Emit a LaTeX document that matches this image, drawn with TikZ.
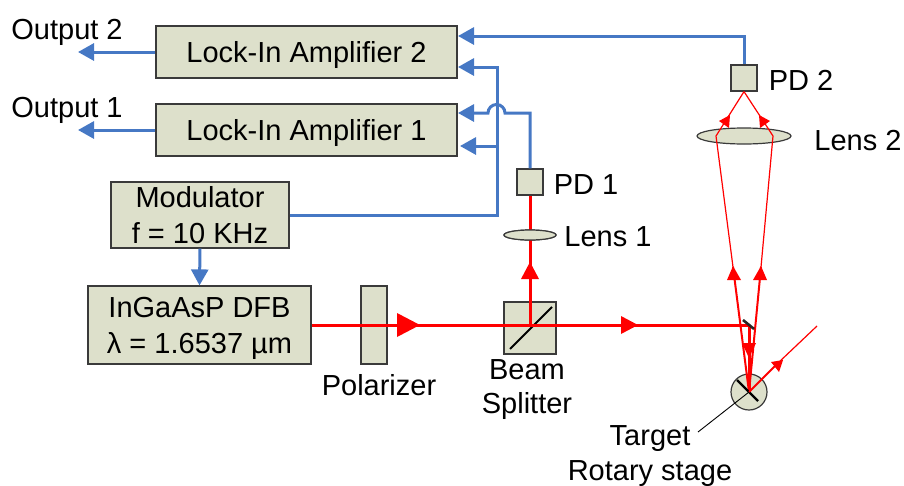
\documentclass[tikz,border=0pt]{standalone}
\usepackage{fontspec}
\setmainfont{Liberation Sans}
\usetikzlibrary{arrows.meta,shapes.geometric,calc}
\definecolor{boxfill}{HTML}{DDE0CB}
\definecolor{boxline}{HTML}{3A3A3A}
\definecolor{sigblue}{HTML}{4678C4}
\definecolor{beamred}{HTML}{FF0000}
\tikzset{
  unit/.style={draw=boxline,line width=1.2pt,fill=boxfill,inner sep=0pt,rectangle,font=\fontsize{29}{36}\selectfont,align=center,text depth=0pt},
  lensshape/.style={ellipse,draw=boxline,line width=1.2pt,fill=boxfill,inner sep=0pt},
  lbl/.style={anchor=base,inner sep=0pt,font=\fontsize{29}{29}\selectfont,text=black},
  sig/.style={draw=sigblue,line width=3pt},
  sigarrow/.style={sig,-{Triangle[length=16pt,width=17pt]}},
  thin beam/.style={draw=beamred,line width=1.2pt},
  mid beam/.style={draw=beamred,line width=2pt},
  fat beam/.style={draw=beamred,line width=3pt},
  redhead/.style={fill=beamred,draw=none},
}
\begin{document}
\begin{tikzpicture}[x=1pt,y=-1pt]
\useasboundingbox (0,0) rectangle (904,485);
% boxes
\node[unit,minimum width=301pt,minimum height=52pt] (lia2) at (306.5,52) {Lock-In Amplifier 2};
\node[unit,minimum width=301pt,minimum height=52pt] (lia1) at (306.5,130) {Lock-In Amplifier 1};
\node[unit,minimum width=178pt,minimum height=66pt] (mod) at (200,215) {Modulator\\f = 10 KHz};
\node[unit,minimum width=223pt,minimum height=78pt] (dfb) at (199.5,325) {InGaAsP DFB\\λ = 1.6537 µm};
\node[unit,minimum width=26pt,minimum height=78pt] (pol) at (374,325) {};
\node[unit,minimum width=52pt,minimum height=52pt] (bs) at (530,328) {};
\node[unit,minimum width=26pt,minimum height=26pt] (pd1) at (530,182) {};
\node[unit,minimum width=26pt,minimum height=26pt] (pd2) at (744,78) {};
\node[lensshape,minimum width=52pt,minimum height=10pt] (lens1) at (530,235) {};
\node[lensshape,minimum width=94pt,minimum height=16pt] (lens2) at (744,136) {};
\node[circle,draw=boxline,line width=1.2pt,fill=boxfill,inner sep=0pt,minimum size=36pt] (stage) at (749,392) {};
% free end points
\coordinate (in2a) at (458,36);
\coordinate (in2b) at (458,67);
\coordinate (in1a) at (458,113);
\coordinate (in1b) at (460,146);
\coordinate (bus) at (497,215);
\coordinate (out2) at (78,52);
\coordinate (out1) at (78,130);
\coordinate (hopR) at (505,113);
\coordinate (busB) at (497,146);
\coordinate (beamEnd) at (749,325);
\coordinate (hit) at (749,392);
\coordinate (rayL) at (716,136);
\coordinate (rayR) at (773,136);
\coordinate (rayLm) at (733,267);
\coordinate (rayRm) at (761,267);
\coordinate (far) at (817,326);
\coordinate (leader) at (698,432);
% blue connectors
\draw[sigarrow] (lia2.west) -- (out2);
\draw[sigarrow] (lia1.west) -- (out1);
\draw[sigarrow] (pd2.north) |- (in2a);
\draw[sigarrow] (mod.east) -- (bus) |- (in2b);
\draw[sigarrow] (busB) -- (in1b);
\draw[sigarrow] (pd1.north) |- (hopR) arc[start angle=0,end angle=180,radius=8.5pt] -- (in1a);
\draw[sigarrow] (mod.south) -- (dfb.north);
% beam splitter mirror
\draw[line width=1.8pt,black] (510,349) -- (552,307);
% red beams
\draw[fat beam] (dfb.east) -- (beamEnd);
\draw[fat beam] (530,325) -- (pd1.south);
\node[lensshape,minimum width=52pt,minimum height=10pt] at (lens1) {};
\draw[fat beam] (530,262) -- (530,241);
\draw[fat beam] (beamEnd) -- (hit);
\fill[redhead] (420,325) -- (397,313) -- (397,337) -- cycle;
\fill[redhead] (638,325) -- (621,316) -- (621,334) -- cycle;
\fill[redhead] (530,262) -- (521,279) -- (539,279) -- cycle;
% reflected rays
\draw[mid beam] (hit) -- (rayLm);
\draw[mid beam] (hit) -- (rayRm);
\draw[thin beam] (rayLm) -- (rayL) -- (pd2.south);
\draw[thin beam] (rayRm) -- (rayR) -- (pd2.south);
\fill[redhead] (749,358) -- (742,343) -- (756,343) -- cycle;
\fill[redhead] (733,266) -- (727,280) -- (741,280) -- cycle;
\fill[redhead] (761,266) -- (753,280) -- (767,280) -- cycle;
\fill[redhead] (730,115) -- (719,121) -- (729,128) -- cycle;
\fill[redhead] (759,115) -- (770,121) -- (760,128) -- cycle;
% mirror
\draw[line width=2.6pt,black!85] (743,320) -- (754,329);
% sample on stage
\draw[line width=2.4pt,black] (737,380) -- (758,401);
% leaving beam
\draw[mid beam] (hit) -- (778,363);
\draw[thin beam] (778,363) -- (far);
\fill[redhead] (783,360) -- (771,362) -- (779,372) -- cycle;
% leader
\draw[line width=0.9pt,black] (hit) -- (leader);
% labels
\node[lbl] (t1) at (67,39) {Output 2};
\node[lbl] (t2) at (67,117) {Output 1};
\node[lbl] (t3) at (801,90) {PD 2};
\node[lbl] (t4) at (858,150) {Lens 2};
\node[lbl] (t5) at (586,194) {PD 1};
\node[lbl] (t6) at (608,246) {Lens 1};
\node[lbl] (t7) at (379,395) {Polarizer};
\node[lbl] (t8) at (527,379) {Beam};
\node[lbl] (t9) at (527,413) {Splitter};
\node[lbl] (t10) at (650,445) {Target};
\node[lbl] (t11) at (650,480) {Rotary stage};
\end{tikzpicture}
\end{document}
